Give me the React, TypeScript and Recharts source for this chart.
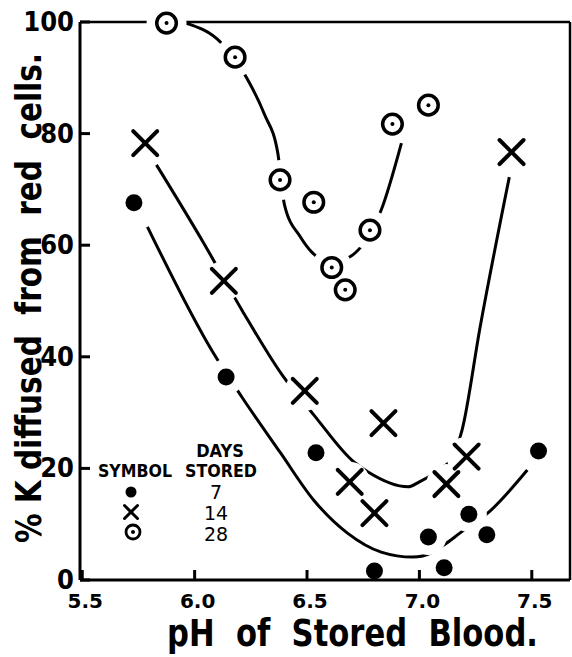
import React from "react";
import { ComposedChart, Line, Scatter, XAxis, YAxis } from "recharts";

const xTicks = [5.5, 6.0, 6.5, 7.0, 7.5];
const yTicks = [0, 20, 40, 60, 80, 100];
const topTicks = [6.0, 6.5, 7.0, 7.5];
const rightTicks = [20, 40, 60, 80];

// measured points: pH vs % K diffused
const stored7 = [
  { ph: 5.73, v: 67.6 },
  { ph: 6.14, v: 36.4 },
  { ph: 6.54, v: 22.8 },
  { ph: 6.8, v: 1.6 },
  { ph: 7.04, v: 7.7 },
  { ph: 7.11, v: 2.2 },
  { ph: 7.22, v: 11.8 },
  { ph: 7.3, v: 8.1 },
  { ph: 7.53, v: 23.1 },
];
const stored14 = [
  { ph: 5.78, v: 78.3 },
  { ph: 6.13, v: 53.6 },
  { ph: 6.49, v: 33.9 },
  { ph: 6.69, v: 17.6 },
  { ph: 6.8, v: 12 },
  { ph: 6.84, v: 28.1 },
  { ph: 7.12, v: 17.2 },
  { ph: 7.21, v: 22.1 },
  { ph: 7.41, v: 76.7 },
];
const stored28 = [
  { ph: 5.875, v: 99.8 },
  { ph: 6.18, v: 93.7 },
  { ph: 6.38, v: 71.7 },
  { ph: 6.53, v: 67.7 },
  { ph: 6.61, v: 56 },
  { ph: 6.67, v: 52 },
  { ph: 6.78, v: 62.7 },
  { ph: 6.88, v: 81.7 },
  { ph: 7.04, v: 85.1 },
];

// hand drawn trend curves
const trend7 = [
  { ph: 5.79, v: 63.3 },
  { ph: 6.08, v: 40.9 },
  { ph: 6.21, v: 32.8 },
  { ph: 6.38, v: 22.9 },
  { ph: 6.53, v: 14.3 },
  { ph: 6.68, v: 8.4 },
  { ph: 6.83, v: 5.0 },
  { ph: 6.97, v: 4.1 },
  { ph: 7.06, v: 5.0 },
  { ph: 7.12, v: 6.6 },
  { ph: 7.18, v: 8.4 },
  { ph: 7.31, v: 12.2 },
  { ph: 7.48, v: 19.7 },
];
const trend14 = [
  { ph: 5.83, v: 74.4 },
  { ph: 6.04, v: 60.4 },
  { ph: 6.21, v: 48.4 },
  { ph: 6.39, v: 36.7 },
  { ph: 6.53, v: 29.6 },
  { ph: 6.71, v: 21.1 },
  { ph: 6.77, v: 19.4 },
  { ph: 6.95, v: 16.7 },
  { ph: 7.0, v: 17.6 },
  { ph: 7.1, v: 20.1 },
  { ph: 7.14, v: 21.5 },
  { ph: 7.19, v: 26.9 },
  { ph: 7.27, v: 45.3 },
  { ph: 7.4, v: 72.2 },
];
const trend28 = [
  { ph: 5.96, v: 99.8 },
  { ph: 6.12, v: 96.2 },
  { ph: 6.23, v: 90.1 },
  { ph: 6.31, v: 83.5 },
  { ph: 6.37, v: 76.5 },
  { ph: 6.4, v: 67.2 },
  { ph: 6.47, v: 61.5 },
  { ph: 6.52, v: 58.8 },
  { ph: 6.6, v: 57.0 },
  { ph: 6.68, v: 57.7 },
  { ph: 6.74, v: 59.7 },
  { ph: 6.83, v: 66.3 },
  { ph: 6.92, v: 78.3 },
];

const legendDays = ["7", "14", "28"];

const INK = "#000";
const LETTER = "'DejaVu Sans Condensed', 'DejaVu Sans', sans-serif";
const NARROW = "'Liberation Sans Narrow', 'DejaVu Sans Condensed', sans-serif";

const W = 572;
const H = 657;
const X_AXIS_H = 77;
const BASE_Y = H - X_AXIS_H; // pixel row of the x axis line

const Dot = ({ cx, cy, r = 8.5 }: any) => <circle cx={cx} cy={cy} r={r} fill={INK} />;

const Cross = ({ cx, cy, s = 12, w = 4 }: any) => (
  <g stroke={INK} strokeWidth={w} strokeLinecap="round">
    <line x1={cx - s} y1={cy - s} x2={cx + s} y2={cy + s} />
    <line x1={cx + s} y1={cy - s} x2={cx - s} y2={cy + s} />
  </g>
);

const Ring = ({ cx, cy, r = 9.8, w = 3.5 }: any) => (
  <g>
    <circle cx={cx} cy={cy} r={r} fill="#fff" stroke={INK} strokeWidth={w} />
    <circle cx={cx} cy={cy} r={2} fill={INK} />
  </g>
);

// white patch under each symbol so the curves break around it,
// trimmed so it never eats the x axis line
const halo = (r: number) => (p: any) => {
  const { cx, cy } = p;
  const yMax = BASE_Y - 2;
  if (cy + r <= yMax) return <circle cx={cx} cy={cy} r={r} fill="#fff" />;
  const d = yMax - cy;
  const hw = Math.sqrt(r * r - d * d);
  return (
    <path
      d={`M${cx - hw},${yMax} A${r},${r} 0 ${d > 0 ? 1 : 0} 1 ${cx + hw},${yMax} Z`}
      fill="#fff"
    />
  );
};

const LeftTick = ({ x, y, payload }: any) => (
  <g>
    <line x1={x} x2={x + 10} y1={y} y2={y} stroke={INK} strokeWidth={3} />
    <text
      x={x - 6}
      y={y + 9}
      textAnchor="end"
      fontFamily={NARROW}
      fontWeight="bold"
      fontSize={27}
      fill={INK}
    >
      {payload.value}
    </text>
  </g>
);

const BottomTick = ({ x, y, payload }: any) => (
  <g>
    <line x1={x} x2={x} y1={y} y2={y - 10} stroke={INK} strokeWidth={3} />
    <text
      x={x + 3}
      y={y + 28}
      textAnchor="middle"
      fontFamily="'DejaVu Sans', sans-serif"
      fontWeight="bold"
      fontSize={20}
      fill={INK}
    >
      {Number(payload.value).toFixed(1)}
    </text>
  </g>
);

const TopTick = ({ x, y }: any) => (
  <line x1={x} x2={x} y1={y} y2={y + 10} stroke={INK} strokeWidth={3} />
);

const RightTick = ({ x, y }: any) => (
  <line x1={x - 10} x2={x} y1={y} y2={y} stroke={INK} strokeWidth={3} />
);

const YTitle = ({ viewBox }: any) => {
  const bx = viewBox.x + 41;
  const cy = viewBox.y + viewBox.height / 2 - 3;
  return (
    <text
      x={bx}
      y={cy}
      transform={`rotate(-90 ${bx} ${cy})`}
      textAnchor="middle"
      fontFamily={LETTER}
      fontWeight="bold"
      fontSize={35}
      textLength={490}
      lengthAdjust="spacingAndGlyphs"
      fill={INK}
      style={{ whiteSpace: "pre" }}
    >
      {"% K diffused  from  red  cells."}
    </text>
  );
};

const XTitle = ({ viewBox }: any) => (
  <text
    x={viewBox.x + 87}
    y={viewBox.y + 66}
    fontFamily={LETTER}
    fontWeight="bold"
    fontSize={37}
    textLength={371}
    lengthAdjust="spacingAndGlyphs"
    fill={INK}
    style={{ whiteSpace: "pre" }}
  >
    {"pH  of  Stored  Blood."}
  </text>
);

function SymbolKey() {
  const rows = [
    <Dot key="a" cx={131} cy={492} r={5.5} />,
    <Cross key="b" cx={131} cy={512} s={6.5} w={3} />,
    <Ring key="c" cx={133} cy={532} r={7} w={2.8} />,
  ];
  return (
    <svg
      width={W}
      height={H}
      style={{ position: "absolute", left: 0, top: 0, pointerEvents: "none" }}
    >
      <g fontFamily={LETTER} fontWeight="bold" fill={INK} textAnchor="middle">
        <text x={220} y={457} fontSize={18}>DAYS</text>
        <text x={135} y={477} fontSize={18} textLength={74} lengthAdjust="spacingAndGlyphs">
          SYMBOL
        </text>
        <text x={221} y={477} fontSize={18} textLength={72} lengthAdjust="spacingAndGlyphs">
          STORED
        </text>
        {legendDays.map((d, i) => (
          <text
            key={d}
            x={216}
            y={499 + i * 21}
            fontSize={19}
            fontFamily="'DejaVu Sans', sans-serif"
            fontWeight="normal"
          >
            {d}
          </text>
        ))}
      </g>
      {rows}
    </svg>
  );
}

export default function App() {
  return (
    <div
      style={{
        position: "fixed",
        left: 0,
        top: 0,
        width: W,
        height: H,
        background: "#fff",
      }}
    >
      <ComposedChart
        width={W}
        height={H}
        margin={{ top: 21, right: 1, bottom: 0, left: 0 }}
      >
        <XAxis
          dataKey="ph"
          type="number"
          domain={[5.49, 7.67]}
          ticks={xTicks}
          height={X_AXIS_H}
          axisLine={{ stroke: INK, strokeWidth: 3 }}
          tickLine={false}
          tickSize={0}
          tickMargin={0}
          tick={<BottomTick />}
          interval={0}
          label={{ content: XTitle } as any}
        />
        <XAxis
          xAxisId="top"
          orientation="top"
          type="number"
          domain={[5.49, 7.67]}
          ticks={topTicks}
          height={1}
          axisLine={{ stroke: INK, strokeWidth: 2.5 }}
          tickLine={false}
          tickSize={0}
          tickMargin={0}
          tick={<TopTick />}
          interval={0}
        />
        <YAxis
          dataKey="v"
          type="number"
          domain={[0, 100]}
          ticks={yTicks}
          width={80}
          axisLine={{ stroke: INK, strokeWidth: 3 }}
          tickLine={false}
          tickSize={0}
          tickMargin={0}
          tick={<LeftTick />}
          interval={0}
          label={{ content: YTitle } as any}
        />
        <YAxis
          yAxisId="right"
          orientation="right"
          type="number"
          domain={[0, 100]}
          ticks={rightTicks}
          width={1}
          axisLine={{ stroke: INK, strokeWidth: 2.5 }}
          tickLine={false}
          tickSize={0}
          tickMargin={0}
          tick={<RightTick />}
          interval={0}
        />

        <Line data={trend7} dataKey="v" type="monotone" stroke={INK} strokeWidth={3} dot={false} activeDot={false} isAnimationActive={false} />
        <Line data={trend14} dataKey="v" type="monotone" stroke={INK} strokeWidth={3} dot={false} activeDot={false} isAnimationActive={false} />
        <Line data={trend28} dataKey="v" type="monotone" stroke={INK} strokeWidth={3} dot={false} activeDot={false} isAnimationActive={false} />

        <Scatter data={stored7} shape={halo(18)} isAnimationActive={false} />
        <Scatter data={stored14} shape={halo(20)} isAnimationActive={false} />
        <Scatter data={stored28} shape={halo(20)} isAnimationActive={false} />

        <Scatter name="7" data={stored7} shape={(p: any) => <Dot cx={p.cx} cy={p.cy} />} isAnimationActive={false} />
        <Scatter name="14" data={stored14} shape={(p: any) => <Cross cx={p.cx} cy={p.cy} />} isAnimationActive={false} />
        <Scatter name="28" data={stored28} shape={(p: any) => <Ring cx={p.cx} cy={p.cy} />} isAnimationActive={false} />
      </ComposedChart>
      <SymbolKey />
    </div>
  );
}
